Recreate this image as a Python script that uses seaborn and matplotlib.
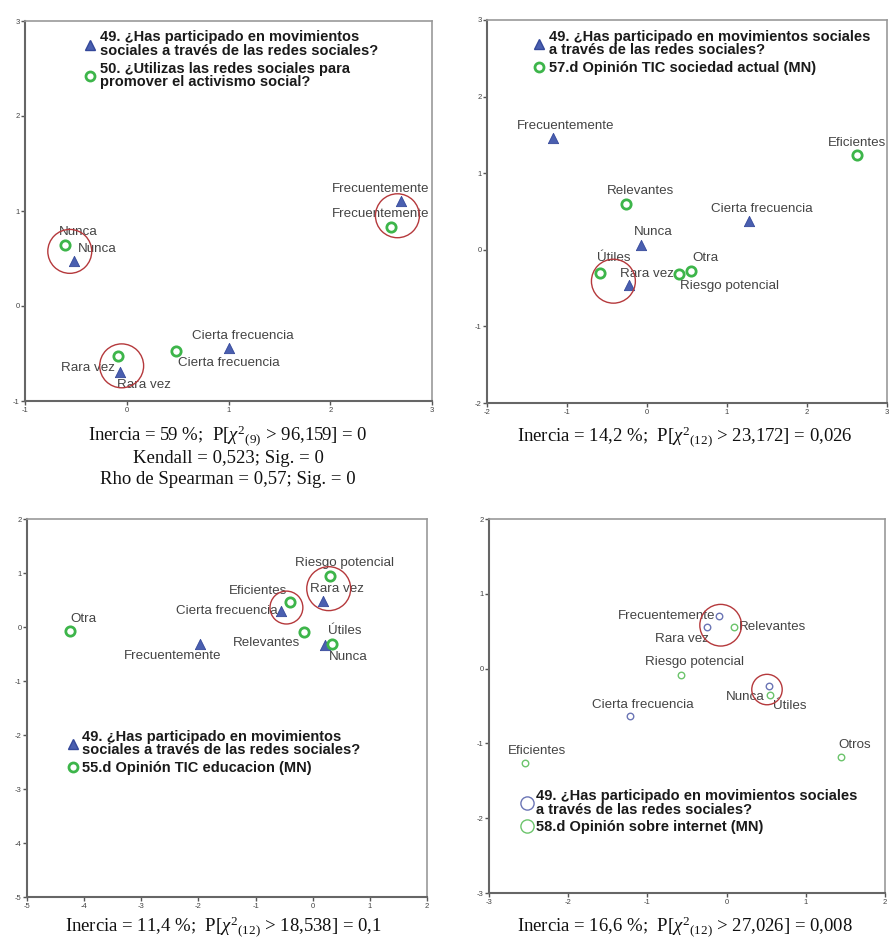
import numpy as np
import matplotlib
matplotlib.use("Agg")
import matplotlib.pyplot as plt
from matplotlib.lines import Line2D
import seaborn as sns

sns.set_style("white")
plt.rcParams['font.family'] = ['Liberation Sans', 'DejaVu Sans']
plt.rcParams['axes.unicode_minus'] = False
plt.rcParams['mathtext.fontset'] = 'custom'
plt.rcParams['mathtext.rm'] = 'Liberation Serif'
plt.rcParams['mathtext.it'] = 'Liberation Serif:italic'

# ---- datos: panel 1 (49 vs 50) ----
p1_cat_49 = ['Frecuentemente', 'Nunca', 'Rara vez', 'Cierta frecuencia']
p1_x_49 = [2.70, -0.52, -0.07, 1.00]
p1_y_49 = [1.10, 0.47, -0.70, -0.44]
p1_cat_50 = ['Frecuentemente', 'Nunca', 'Rara vez', 'Cierta frecuencia']
p1_x_50 = [2.60, -0.61, -0.09, 0.48]
p1_y_50 = [0.83, 0.64, -0.53, -0.47]
p1_ring_x = [-0.56, -0.05, 2.66]
p1_ring_y = [0.575, -0.63, 0.95]
p1_leg = ['49. ¿Has participado en movimientos\nsociales a través de las redes sociales?',
          '50. ¿Utilizas las redes sociales para\npromover el activismo social?']

# ---- panel 2 (49 vs 57.d) ----
p2_cat_49 = ['Frecuentemente', 'Cierta frecuencia', 'Nunca', 'Rara vez']
p2_x_49 = [-1.175, 1.275, -0.07, -0.225]
p2_y_49 = [1.46, 0.38, 0.06, -0.46]
p2_cat_57 = ['Eficientes', 'Relevantes', 'Útiles', 'Riesgo potencial', 'Otra']
p2_x_57 = [2.63, -0.26, -0.59, 0.40, 0.55]
p2_y_57 = [1.24, 0.60, -0.30, -0.31, -0.28]
p2_ring_x = [-0.42]
p2_ring_y = [-0.41]
p2_leg = ['49. ¿Has participado en movimientos sociales\na través de las redes sociales?',
          '57.d Opinión TIC sociedad actual (MN)']

# ---- panel 3 (49 vs 55.d) ----
p3_cat_49 = ['Cierta frecuencia', 'Rara vez', 'Frecuentemente', 'Nunca']
p3_x_49 = [-0.55, 0.18, -1.98, 0.22]
p3_y_49 = [0.30, 0.49, -0.31, -0.34]
p3_cat_55 = ['Otra', 'Eficientes', 'Riesgo potencial', 'Relevantes', 'Útiles']
p3_x_55 = [-4.25, -0.40, 0.31, -0.16, 0.34]
p3_y_55 = [-0.07, 0.47, 0.94, -0.10, -0.31]
p3_ring_x = [-0.46, 0.28]
p3_ring_y = [0.36, 0.71]
p3_leg = ['49. ¿Has participado en movimientos\nsociales a través de las redes sociales?',
          '55.d Opinión TIC educacion (MN)']

# ---- panel 4 (49 vs 58.d) ----
p4_cat_49 = ['Frecuentemente', 'Rara vez', 'Nunca', 'Cierta frecuencia']
p4_x_49 = [-0.10, -0.25, 0.53, -1.22]
p4_y_49 = [0.70, 0.55, -0.23, -0.63]
p4_cat_58 = ['Relevantes', 'Riesgo potencial', 'Útiles', 'Eficientes', 'Otros']
p4_x_58 = [0.09, -0.57, 0.55, -2.55, 1.45]
p4_y_58 = [0.555, -0.08, -0.35, -1.26, -1.185]
p4_ring_x = [-0.075, 0.51]
p4_ring_y = [0.58, -0.28]
p4_leg = ['49. ¿Has participado en movimientos sociales\na través de las redes sociales?',
          '58.d Opinión sobre internet (MN)']

captions = [
    [r'Inercia = 59 %;  P[$\chi^{2}{}_{(9)}$ > 96,159] = 0',
     'Kendall = 0,523; Sig. = 0',
     'Rho de Spearman = 0,57; Sig. = 0'],
    [r'Inercia = 14,2 %;  P[$\chi^{2}{}_{(12)}$ > 23,172] = 0,026'],
    [r'Inercia = 11,4 %;  P[$\chi^{2}{}_{(12)}$ > 18,538] = 0,1'],
    [r'Inercia = 16,6 %;  P[$\chi^{2}{}_{(12)}$ > 27,026] = 0,008'],
]

# desplazamientos de etiquetas (pixeles)
p1_off_49 = [(-21, 12), (23, 12), (24, -12), (14, 12)]
p1_off_50 = [(-11, 13), (14, 13), (-30, -12), (53, -12)]
p2_off_49 = [(13, 12), (13, 12), (12, 13), (18, 11)]
p2_off_57 = [(0, 12), (14, 13), (14, 15), (50, -12), (14, 13)]
p3_off_49 = [(-54, 0), (14, 12), (-27, -12), (23, -12)]
p3_off_55 = [(14, 12), (-32, 11), (14, 13), (-37, -11), (13, 13)]
p4_off_49 = [(-52, 0), (-25, -12), (-23, -11), (13, 11)]
p4_off_58 = [(39, 0), (13, 13), (20, -11), (12, 12), (13, 12)]

BLUE = '#4a5fb0'
GREEN = '#3db54a'
RED = '#b5393c'
W, H = 889, 938

fig = plt.figure(figsize=(W / 100, H / 100), dpi=100)


def make_ax(l, r, t, b):
    return fig.add_axes([l / W, 1 - b / H, (r - l) / W, (b - t) / H])


def style(ax, xlim, ylim):
    ax.set_xlim(*xlim)
    ax.set_ylim(*ylim)
    ax.set_xticks(range(xlim[0], xlim[1] + 1))
    ax.set_yticks(range(ylim[0], ylim[1] + 1))
    ax.tick_params(direction='out', length=3, width=1, colors='#555555',
                   labelsize=5.5, labelcolor='#444444', pad=1,
                   left=True, bottom=True)
    for s in ['top', 'right']:
        ax.spines[s].set_color('#999999')
        ax.spines[s].set_linewidth(1.2)
    for s in ['left', 'bottom']:
        ax.spines[s].set_color('#666666')
        ax.spines[s].set_linewidth(1.5)
    ax.set_xlabel('')
    ax.set_ylabel('')


def labels(ax, cats, xs, ys, offs):
    for c, x, y, (dx, dy) in zip(cats, xs, ys, offs):
        t = ax.annotate(c, (x, y), xytext=(dx, dy), textcoords='offset pixels',
                        ha='center', va='center', fontsize=9.6, color='#444444')
        t.set_clip_on(True)


def rings(ax, xs, ys, size):
    ax.scatter(xs, ys, s=size, facecolors='none', edgecolors=RED, linewidths=1, zorder=4)


def legend(ax, handles, texts, anchor):
    leg = ax.legend(handles, texts, loc='upper left', bbox_to_anchor=anchor, frameon=False,
                    borderpad=0, borderaxespad=0, handlelength=0.7, handletextpad=0.3,
                    labelspacing=0.25, prop={'weight': 'bold', 'size': 10.5}, labelcolor='#1a1a1a')
    for t in leg.get_texts():
        t.set_linespacing(0.97)


tri = Line2D([], [], marker='^', ls='', color=BLUE, markersize=6.5, markeredgecolor='#34489a')
ring = Line2D([], [], marker='o', ls='', markerfacecolor='white', markeredgecolor=GREEN,
              markersize=6.5, markeredgewidth=2)

# panel 1
ax1 = make_ax(25, 432, 21, 401)
sns.scatterplot(x=p1_x_49, y=p1_y_49, marker='^', s=55, color=BLUE, edgecolor='#34489a', ax=ax1, zorder=3)
sns.scatterplot(x=p1_x_50, y=p1_y_50, marker='o', s=45, facecolor='white', edgecolor=GREEN, linewidth=2, ax=ax1, zorder=3)
rings(ax1, p1_ring_x, p1_ring_y, 1000)
labels(ax1, p1_cat_49, p1_x_49, p1_y_49, p1_off_49)
labels(ax1, p1_cat_50, p1_x_50, p1_y_50, p1_off_50)
style(ax1, (-1, 3), (-1, 3))
legend(ax1, [tri, ring], p1_leg, (0.148, 0.975))

# panel 2
ax2 = make_ax(487, 887, 20, 403)
sns.scatterplot(x=p2_x_49, y=p2_y_49, marker='^', s=55, color=BLUE, edgecolor='#34489a', ax=ax2, zorder=3)
sns.scatterplot(x=p2_x_57, y=p2_y_57, marker='o', s=45, facecolor='white', edgecolor=GREEN, linewidth=2, ax=ax2, zorder=3)
rings(ax2, p2_ring_x, p2_ring_y, 1000)
labels(ax2, p2_cat_49, p2_x_49, p2_y_49, p2_off_49)
labels(ax2, p2_cat_57, p2_x_57, p2_y_57, p2_off_57)
style(ax2, (-2, 3), (-2, 3))
legend(ax2, [tri, ring], p2_leg, (0.118, 0.975))

# panel 3
ax3 = make_ax(27, 427, 519, 897)
sns.scatterplot(x=p3_x_49, y=p3_y_49, marker='^', s=55, color=BLUE, edgecolor='#34489a', ax=ax3, zorder=3)
sns.scatterplot(x=p3_x_55, y=p3_y_55, marker='o', s=45, facecolor='white', edgecolor=GREEN, linewidth=2, ax=ax3, zorder=3)
rings(ax3, p3_ring_x, p3_ring_y, [560, 1000])
labels(ax3, p3_cat_49, p3_x_49, p3_y_49, p3_off_49)
labels(ax3, p3_cat_55, p3_x_55, p3_y_55, p3_off_55)
style(ax3, (-5, 2), (-5, 2))
legend(ax3, [tri, ring], p3_leg, (0.102, 0.443))

# panel 4
ax4 = make_ax(489, 885, 519, 893)
sns.scatterplot(x=p4_x_49, y=p4_y_49, marker='o', s=22, facecolor='white', edgecolor='#6b75b5', linewidth=1, ax=ax4, zorder=3)
sns.scatterplot(x=p4_x_58, y=p4_y_58, marker='o', s=22, facecolor='white', edgecolor='#6cc46c', linewidth=1, ax=ax4, zorder=3)
rings(ax4, p4_ring_x, p4_ring_y, [900, 480])
labels(ax4, p4_cat_49, p4_x_49, p4_y_49, p4_off_49)
labels(ax4, p4_cat_58, p4_x_58, p4_y_58, p4_off_58)
style(ax4, (-3, 2), (-3, 2))
big_b = Line2D([], [], marker='o', ls='', markerfacecolor='white', markeredgecolor='#6b75b5', markersize=9.5, markeredgewidth=1)
big_g = Line2D([], [], marker='o', ls='', markerfacecolor='white', markeredgecolor='#6cc46c', markersize=9.5, markeredgewidth=1)
legend(ax4, [big_b, big_g], p4_leg, (0.082, 0.278))

# textos de pie
cap_pos = [(228, [436, 458, 479]), (685, [437]), (223, [927]), (685, [927])]
for lines, (cx, ys) in zip(captions, cap_pos):
    for txt, cy in zip(lines, ys):
        fig.text(cx / W, 1 - cy / H, txt, ha='center', va='center', fontsize=13.5,
                 family='Liberation Serif', color='#111111')

fig.savefig('out.png', dpi=100)
